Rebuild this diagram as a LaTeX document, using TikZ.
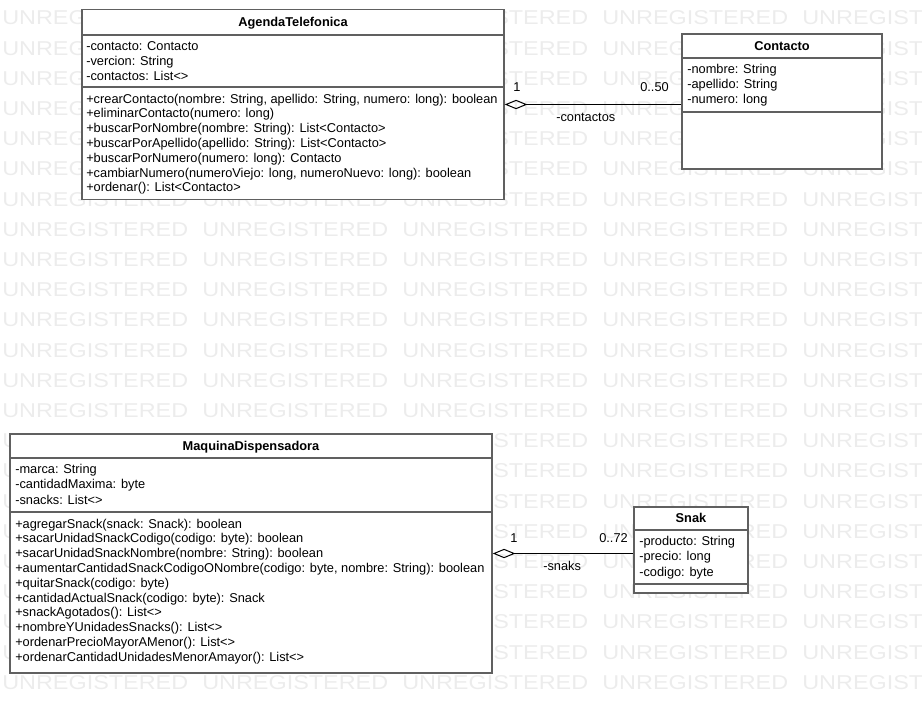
\documentclass[tikz,border=0pt]{standalone}
\usepackage{fontspec}
\setmainfont{Liberation Sans}
\usetikzlibrary{positioning,arrows.meta}
\definecolor{boxgray}{HTML}{606060}
\definecolor{markgray}{HTML}{ECECEC}

\begin{document}
\begin{tikzpicture}[x=0.75pt,y=-0.75pt,
	classbox/.style={draw=boxgray,line width=1.1pt,fill=white,inner sep=0pt},
	divider/.style={draw=boxgray,line width=1.1pt},
	member/.style={anchor=base west,inner sep=0pt,font=\fontsize{9.6}{11}\selectfont},
	classname/.style={anchor=base,inner sep=0pt,font=\fontsize{9.6}{11}\selectfont\bfseries},
	mult/.style={inner sep=0pt,font=\fontsize{9.6}{11}\selectfont},
	aggreg/.style={draw=black,line width=0.75pt,{Diamond[open,length=17pt,width=7pt]}-},
	wmark/.style={anchor=west,inner sep=0pt,text=markgray,xscale=1.17,font=\fontsize{15}{15}\selectfont}]
					\useasboundingbox (0,0) rectangle (922,714);
					%WATERMARK
					\begin{scope}
						\clip (0,0) rectangle (922,714);
						\foreach \r in {0,...,22}
							\foreach \c in {0,...,4}
								\node[wmark] at (2+200*\c,18+30.2*\r) {UNREGISTERED};
					\end{scope}
					%AGENDA
					\node[classbox,minimum width=316.5pt,minimum height=142.5pt] (agenda) at (293,104.5) {};
					\node[classname] (agendaname) at (293,26) {AgendaTelefonica};
					\draw[divider] (agenda.west |- 0,35) -- (agenda.east |- 0,35);
					\draw[divider] (agenda.west |- 0,87) -- (agenda.east |- 0,87);
					\foreach \t [count=\i from 0] in {-contacto: Contacto,-vercion: String,-contactos: List<>}
						\node[member] at (86,50.5+14.8*\i) {\t};
					\foreach \t [count=\i from 0] in {{+crearContacto(nombre: String, apellido: String, numero: long): boolean},
						+eliminarContacto(numero: long),+buscarPorNombre(nombre: String): List<Contacto>,
						+buscarPorApellido(apellido: String): List<Contacto>,+buscarPorNumero(numero: long): Contacto,
						{+cambiarNumero(numeroViejo: long, numeroNuevo: long): boolean},+ordenar(): List<Contacto>}
						\node[member] at (86,103+14.8*\i) {\t};
					%CONTACTO
					\node[classbox,minimum width=150pt,minimum height=101.25pt] (contacto) at (782,101.5) {};
					\node[classname] (contactoname) at (782,50) {Contacto};
					\draw[divider] (contacto.west |- 0,58) -- (contacto.east |- 0,58);
					\draw[divider] (contacto.west |- 0,112) -- (contacto.east |- 0,112);
					\foreach \t [count=\i from 0] in {-nombre: String,-apellido: String,-numero: long}
						\node[member] at (687,73+15*\i) {\t};
					%MAQUINA
					\node[classbox,minimum width=361.5pt,minimum height=179.25pt] (maquina) at (251,553.5) {};
					\node[classname] (maquinaname) at (251,450) {MaquinaDispensadora};
					\draw[divider] (maquina.west |- 0,458) -- (maquina.east |- 0,458);
					\draw[divider] (maquina.west |- 0,512) -- (maquina.east |- 0,512);
					\foreach \t [count=\i from 0] in {-marca: String,-cantidadMaxima: byte,-snacks: List<>}
						\node[member] at (15,473+15.5*\i) {\t};
					\foreach \t [count=\i from 0] in {+agregarSnack(snack: Snack): boolean,+sacarUnidadSnackCodigo(codigo: byte): boolean,
						+sacarUnidadSnackNombre(nombre: String): boolean,
						{+aumentarCantidadSnackCodigoONombre(codigo: byte, nombre: String): boolean},
						+quitarSnack(codigo: byte),+cantidadActualSnack(codigo: byte): Snack,+snackAgotados(): List<>,
						+nombreYUnidadesSnacks(): List<>,+ordenarPrecioMayorAMenor(): List<>,
						+ordenarCantidadUnidadesMenorAmayor(): List<>}
						\node[member] at (15,528+14.8*\i) {\t};
					%SNAK
					\node[classbox,minimum width=85.5pt,minimum height=64.5pt] (snak) at (691,550) {};
					\node[classname] (snakname) at (691,522.5) {Snak};
					\draw[divider] (snak.west |- 0,530) -- (snak.east |- 0,530);
					\draw[divider] (snak.west |- 0,584) -- (snak.east |- 0,584);
					\foreach \t [count=\i from 0] in {-producto: String,-precio: long,-codigo: byte}
						\node[member] at (639,545+15.5*\i) {\t};
					%ASSOCIATIONS
					\draw[aggreg] (agenda.east) -- (agenda.east -| contacto.west);
					\node[mult,anchor=base west] (agendaone) at (513,91) {1};
					\node[mult,anchor=base east] (contactomax) at (669,91) {0..50};
					\node[mult,anchor=base west] (contactorole) at (556,121) {-contactos};
					\draw[aggreg] (maquina.east) -- (maquina.east -| snak.west);
					\node[mult,anchor=base west] (maquinaone) at (510,542) {1};
					\node[mult,anchor=base east] (snakmax) at (628,542) {0..72};
					\node[mult,anchor=base west] (snakrole) at (543,570) {-snaks};
	  \end{tikzpicture}
\end{document}
